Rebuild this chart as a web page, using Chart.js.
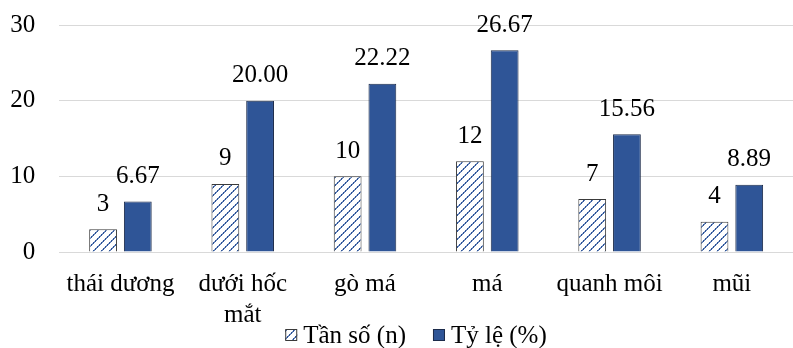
<!DOCTYPE html>
<html>
<head>
<meta charset="utf-8">
<script src="https://cdn.jsdelivr.net/npm/chart.js@4/dist/chart.umd.min.js"></script>
<style>
  html, body { margin: 0; padding: 0; background: #fff; }
</style>
</head>
<body>
<canvas id="chart" width="793" height="348"></canvas>
<script>
// Anatomical sites (the second one wraps onto two lines)
const categories = ['thái dương', ['dưới hốc', 'mắt'], 'gò má', 'má', 'quanh môi', 'mũi'];
// Frequency (n) per site
const frequency = [3, 9, 10, 12, 7, 4];
// Share (%) per site
const percent = [6.67, 20.00, 22.22, 26.67, 15.56, 8.89];
// Y axis ticks
const yTicks = [0, 10, 20, 30];
const seriesNames = ['Tần số (n)', 'Tỷ lệ (%)'];

const FONT = '"Liberation Serif", "Times New Roman", serif';
const BLUE = '#2F5597';

// Diagonal dotted hatch used for the frequency bars
function makeHatch() {
  const p = document.createElement('canvas');
  p.width = 8; p.height = 8;
  const g = p.getContext('2d');
  g.fillStyle = '#fff';
  g.fillRect(0, 0, 8, 8);
  for (let i = 0; i < 8; i++) {
    g.fillStyle = i % 2 ? BLUE : '#7d97c8';
    g.fillRect(i, 7 - i, 1, 1);
    g.fillStyle = i % 2 ? '#5f7fb8' : BLUE;
    g.fillRect((i + 1) % 8, 7 - i, 1, 1);
  }
  return g.createPattern(p, 'repeat');
}

// Value printed above each bar
const valueLabels = {
  id: 'valueLabels',
  afterDatasetsDraw(chart) {
    const ctx = chart.ctx;
    ctx.save();
    ctx.font = '25px ' + FONT;
    ctx.fillStyle = '#000';
    ctx.textAlign = 'center';
    ctx.textBaseline = 'middle';
    chart.data.datasets.forEach((ds, di) => {
      chart.getDatasetMeta(di).data.forEach((bar, i) => {
        const v = ds.data[i];
        const text = di === 0 ? String(v) : v.toFixed(2);
        ctx.fillText(text, bar.x, bar.y - 25);
      });
    });
    ctx.restore();
  }
};

// Single-row legend under the axis labels
const legendRow = {
  id: 'legendRow',
  afterDraw(chart) {
    const ctx = chart.ctx;
    ctx.save();
    ctx.font = '25px ' + FONT;
    ctx.textBaseline = 'middle';
    ctx.textAlign = 'left';
    const box = 12, gap = 6, spacing = 27, cy = 335, cx = 416;
    const ds = chart.data.datasets;
    const widths = ds.map(d => box + gap + ctx.measureText(d.label).width);
    const total = widths.reduce((a, b) => a + b, 0) + spacing * (ds.length - 1);
    let x = cx - total / 2;
    ds.forEach((d, i) => {
      ctx.fillStyle = d.backgroundColor;
      ctx.fillRect(x, cy - box / 2, box, box);
      ctx.strokeStyle = d.borderColor;
      ctx.lineWidth = 1;
      ctx.strokeRect(x + 0.5, cy - box / 2 + 0.5, box - 1, box - 1);
      ctx.fillStyle = '#000';
      ctx.fillText(d.label, x + box + gap, cy + 1);
      x += widths[i] + spacing;
    });
    ctx.restore();
  }
};

new Chart(document.getElementById('chart'), {
  type: 'bar',
  data: {
    labels: categories,
    datasets: [
      {
        label: seriesNames[0],
        data: frequency,
        backgroundColor: makeHatch(),
        borderColor: '#3a3a3a',
        borderWidth: 1,
        categoryPercentage: 0.568,
        barPercentage: 0.8
      },
      {
        label: seriesNames[1],
        data: percent,
        backgroundColor: BLUE,
        borderColor: '#1c2b4a',
        borderWidth: 1,
        categoryPercentage: 0.568,
        barPercentage: 0.8
      }
    ]
  },
  options: {
    responsive: false,
    devicePixelRatio: 1,
    animation: false,
    layout: { padding: { top: 25, right: -6, bottom: 0, left: 0 } },
    plugins: {
      legend: { display: false },
      tooltip: { enabled: false }
    },
    scales: {
      x: {
        grid: { display: false, drawTicks: false },
        border: { display: false },
        ticks: {
          color: '#000',
          font: { family: FONT, size: 25, lineHeight: 1.25 },
          padding: 17,
          maxRotation: 0,
          autoSkip: false
        },
        afterFit(scale) { scale.height = 96; }
      },
      y: {
        min: yTicks[0],
        max: yTicks[yTicks.length - 1],
        afterBuildTicks(scale) { scale.ticks = yTicks.map(v => ({ value: v })); },
        grid: { color: '#d9d9d9', lineWidth: 1, drawTicks: false },
        border: { display: false },
        ticks: {
          color: '#000',
          font: { family: FONT, size: 25 },
          padding: 24
        },
        afterFit(scale) {
          scale.width = 59.3;
          scale.paddingTop = 0;
          scale.paddingBottom = 0;
        }
      }
    }
  },
  plugins: [valueLabels, legendRow]
});
</script>
</body>
</html>
